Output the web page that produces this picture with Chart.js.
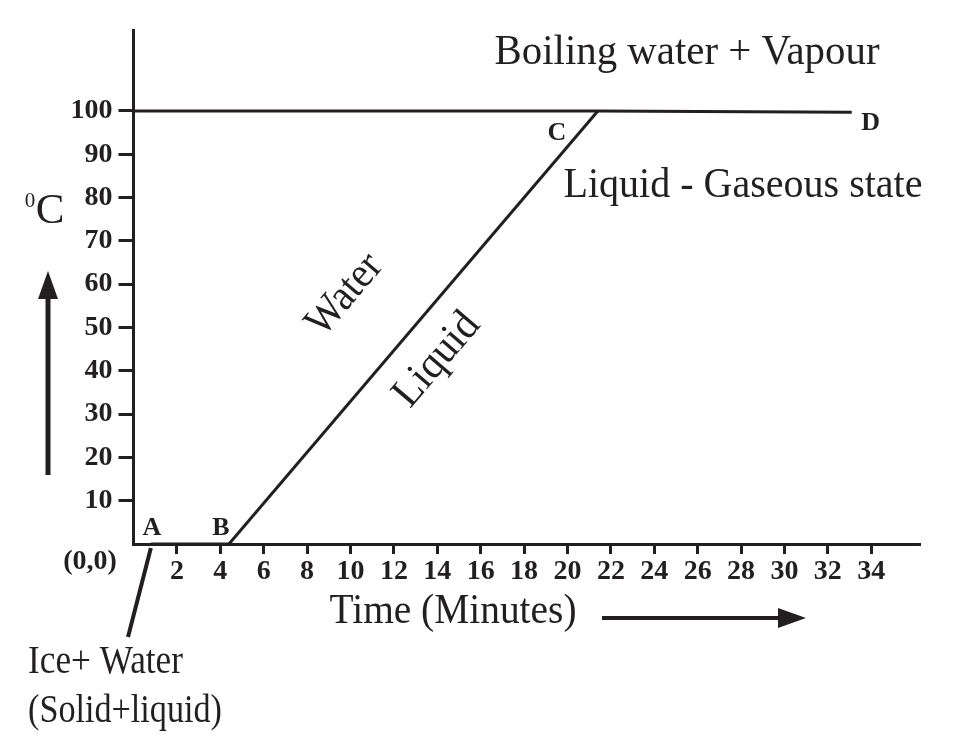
<!DOCTYPE html>
<html>
<head>
<meta charset="utf-8">
<script src="https://cdn.jsdelivr.net/npm/chart.js@4.4.1/dist/chart.umd.min.js"></script>
<style>
    html, body { margin: 0; padding: 0; background: #fff; }
    #wrap { width: 967px; height: 755px; position: relative; }
</style>
</head>
<body>
<div id="wrap"><canvas id="heatingCurve"></canvas></div>
<script>
// ----------------- Data -----------------
const xTicks = [2, 4, 6, 8, 10, 12, 14, 16, 18, 20, 22, 24, 26, 28, 30, 32, 34];
const yTicks = [10, 20, 30, 40, 50, 60, 70, 80, 90, 100];

// A -> B : ice + water (on the time axis)
const iceTime = [0.8, 4.4];
const iceTemp = [0, 0];
// B -> C : liquid water heating
const liquidTime = [4.4, 21.4];
const liquidTemp = [0, 100];
// 100 degC line through C -> D : boiling
const boilTime = [0, 21.4, 33.1];
const boilTemp = [100, 100, 99.7];

// named points on the curve
const pointNames = ['A', 'B', 'C', 'D'];
const pointTime = [0.8, 4.4, 21.4, 33.1];
const pointTemp = [0, 0, 100, 99.7];

const INK = '#231f20';
const SERIF = '"Liberation Serif", "DejaVu Serif", serif';

function toXY(xs, ys) {
    return xs.map((x, i) => ({ x: x, y: ys[i] }));
}

function lineSet(xs, ys) {
    return {
        data: toXY(xs, ys),
        showLine: true,
        borderColor: INK,
        borderWidth: 3,
        pointRadius: 0,
        tension: 0
    };
}

// ----------------- Annotations -----------------
const labelsPlugin = {
    id: 'labels',
    afterDraw(chart) {
        const ctx = chart.ctx;
        const xs = chart.scales.x;
        const ys = chart.scales.y;
        ctx.save();
        ctx.fillStyle = INK;
        ctx.strokeStyle = INK;
        ctx.textAlign = 'center';
        ctx.textBaseline = 'middle';

        function text(t, x, y, size, bold, maxW) {
            ctx.font = (bold ? 'bold ' : '') + size + 'px ' + SERIF;
            if (maxW) ctx.fillText(t, x, y, maxW); else ctx.fillText(t, x, y);
        }

        // point letters, offset from their point
        const offs = [[1, -16], [-8, -16], [-41, 22], [19, 11]];
        pointNames.forEach((n, i) => {
            const px = xs.getPixelForValue(pointTime[i]);
            const py = ys.getPixelForValue(pointTemp[i]);
            text(n, px + offs[i][0], py + offs[i][1], 26, true);
        });

        // pointer from A to its caption
        const ax = xs.getPixelForValue(pointTime[0]);
        const ay = ys.getPixelForValue(pointTemp[0]);
        ctx.lineWidth = 4;
        ctx.beginPath();
        ctx.moveTo(ax, ay + 4);
        ctx.lineTo(128, 637);
        ctx.stroke();

        text('(0,0)', 90, 562, 28, true, 56);

        // region captions
        text('Boiling water + Vapour', 687, 53, 43, false, 385);
        text('Liquid - Gaseous state', 743, 186, 43, false, 359);
        text('Time (Minutes)', 453, 612, 42, false, 247);
        ctx.textAlign = 'left';
        text('Ice+ Water', 28, 662, 41, false, 155);
        text('(Solid+liquid)', 28, 711, 41, false, 194);
        ctx.textAlign = 'center';

        // rotated captions along B-C
        const ang = Math.atan2(
            ys.getPixelForValue(liquidTemp[1]) - ys.getPixelForValue(liquidTemp[0]),
            xs.getPixelForValue(liquidTime[1]) - xs.getPixelForValue(liquidTime[0])
        );
        [['Water', 345, 295, 94], ['Liquid', 437, 360, 110]].forEach(c => {
            ctx.save();
            ctx.translate(c[1], c[2]);
            ctx.rotate(ang);
            text(c[0], 0, 0, 43, false, c[3]);
            ctx.restore();
        });

        // unit label
        text('C', 50, 212, 43, false);
        text('0', 30, 201, 21, false);

        // y arrow
        ctx.lineWidth = 5;
        ctx.beginPath();
        ctx.moveTo(48, 475);
        ctx.lineTo(48, 296);
        ctx.stroke();
        ctx.beginPath();
        ctx.moveTo(48, 271);
        ctx.lineTo(38, 299);
        ctx.lineTo(58, 299);
        ctx.closePath();
        ctx.fill();

        // x arrow
        ctx.lineWidth = 4;
        ctx.beginPath();
        ctx.moveTo(602, 618);
        ctx.lineTo(780, 618);
        ctx.stroke();
        ctx.beginPath();
        ctx.moveTo(806, 618);
        ctx.lineTo(778, 608);
        ctx.lineTo(778, 628);
        ctx.closePath();
        ctx.fill();

        ctx.restore();
    }
};

// ----------------- Chart -----------------
const ctx = document.getElementById('heatingCurve').getContext('2d');
new Chart(ctx, {
    type: 'scatter',
    data: {
        datasets: [
            lineSet(iceTime, iceTemp),
            lineSet(liquidTime, liquidTemp),
            lineSet(boilTime, boilTemp)
        ]
    },
    options: {
        responsive: true,
        maintainAspectRatio: false,
        animation: false,
        layout: { padding: { left: 0, top: 30, right: 48, bottom: 161 } },
        plugins: {
            legend: { display: false },
            tooltip: { enabled: false }
        },
        scales: {
            x: {
                type: 'linear',
                min: 0,
                max: 36.2,
                afterBuildTicks: s => { s.ticks = xTicks.map(v => ({ value: v })); },
                afterFit: s => { s.height = 50; },
                grid: { drawOnChartArea: false, drawTicks: true, tickLength: 10, color: INK, lineWidth: 3 },
                border: { display: true, color: INK, width: 3 },
                ticks: {
                    color: INK,
                    padding: 1,
                    maxRotation: 0,
                    autoSkip: false,
                    font: { family: SERIF, size: 28, weight: 'bold' }
                }
            },
            y: {
                type: 'linear',
                min: 0,
                max: 118.7,
                afterBuildTicks: s => { s.ticks = yTicks.map(v => ({ value: v })); },
                afterFit: s => { s.width = 133.5; },
                grid: { drawOnChartArea: false, drawTicks: true, tickLength: 15, color: INK, lineWidth: 3 },
                border: { display: true, color: INK, width: 3 },
                ticks: {
                    color: INK,
                    padding: 6,
                    autoSkip: false,
                    font: { family: SERIF, size: 28, weight: 'bold' }
                }
            }
        }
    },
    plugins: [labelsPlugin]
});
</script>
</body>
</html>
